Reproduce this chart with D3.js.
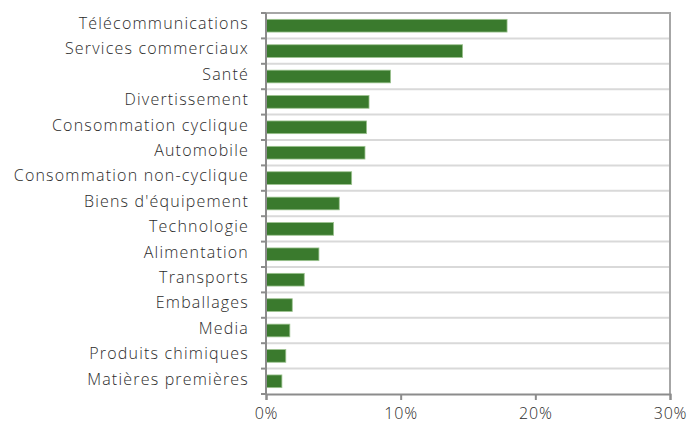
<!doctype html>
<html lang="fr">
<head>
<meta charset="UTF-8">
<title>Secteurs</title>
<script src="https://d3js.org/d3.v7.min.js"></script>
<style>
  body { margin: 0; background: #fff; }
  text { font-variant-ligatures: none; }
</style>
</head>
<body>
<div id="chart"></div>
<script>
// categories, top to bottom
const sectors = ["Télécommunications", "Services commerciaux", "Santé", "Divertissement",
  "Consommation cyclique", "Automobile", "Consommation non-cyclique", "Biens d'équipement",
  "Technologie", "Alimentation", "Transports", "Emballages", "Media",
  "Produits chimiques", "Matières premières"];
// weights in %
const weights = [17.9, 14.6, 9.25, 7.65, 7.47, 7.35, 6.36, 5.44, 5.02, 3.93, 2.84, 1.95, 1.77, 1.47, 1.18];
const xTicks = [0, 10, 20, 30];

const width = 691, height = 423;
const margin = {top: 13, right: 21, bottom: 29, left: 266};
const font = "'Open Sans', sans-serif";

const svg = d3.select("#chart").append("svg")
  .attr("width", width)
  .attr("height", height);

const x = d3.scaleLinear().domain([0, 30]).range([margin.left, width - margin.right]);
const y = d3.scaleBand().domain(sectors).range([margin.top, height - margin.bottom]).paddingInner(0.5).paddingOuter(0.25);

// boundaries between categories
const step = y.step();
const bounds = d3.range(sectors.length + 1).map(i => margin.top + i * step);

// horizontal gridlines
svg.append("g").selectAll("line")
  .data(bounds.slice(1, -1))
  .enter().append("line")
    .attr("x1", x(0)).attr("x2", x(30))
    .attr("y1", d => d).attr("y2", d => d)
    .attr("stroke", "#d9d9d9")
    .attr("stroke-width", 2);

// top and right border
svg.append("path")
  .attr("d", `M${x(0)},${margin.top}H${x(30)}V${height - margin.bottom}`)
  .attr("fill", "none")
  .attr("stroke", "#a6a6a6")
  .attr("stroke-width", 2);

// bars
svg.append("g").selectAll("rect")
  .data(weights)
  .enter().append("rect")
    .attr("x", x(0))
    .attr("y", (d, i) => y(sectors[i]))
    .attr("width", d => x(d) - x(0))
    .attr("height", y.bandwidth())
    .attr("fill", "#3a7a2d")
    .attr("stroke", "#9cc38f")
    .attr("stroke-width", 0.8);

// left axis: ticks on boundaries
const yAxis = svg.append("g");
yAxis.append("line")
  .attr("x1", x(0)).attr("x2", x(0))
  .attr("y1", margin.top).attr("y2", height - margin.bottom + 1)
  .attr("stroke", "#8c8c8c").attr("stroke-width", 2);
yAxis.selectAll(".tk")
  .data(bounds)
  .enter().append("line")
    .attr("x1", x(0) - 5).attr("x2", x(0))
    .attr("y1", d => d).attr("y2", d => d)
    .attr("stroke", "#8c8c8c").attr("stroke-width", 2);
yAxis.selectAll("text")
  .data(sectors)
  .enter().append("text")
    .attr("x", 249)
    .attr("y", d => y(d) + y.bandwidth() / 2)
    .attr("dy", "0.2em")
    .attr("text-anchor", "end")
    .attr("font-family", font)
    .attr("font-size", "16px")
    .attr("font-weight", 300)
    .attr("letter-spacing", "1.2px")
    .attr("fill", "#2b2b2b")
    .text(d => d);

// bottom axis
const xAxis = svg.append("g")
  .attr("transform", `translate(0,${height - margin.bottom})`)
  .call(d3.axisBottom(x).tickValues(xTicks).tickFormat(d => d + "%").tickSize(6).tickPadding(8));
xAxis.select(".domain").attr("stroke", "#8c8c8c").attr("stroke-width", 2);
xAxis.selectAll(".tick line").attr("stroke", "#8c8c8c").attr("stroke-width", 2);
xAxis.selectAll("text")
  .attr("font-family", font)
  .attr("font-size", "16px")
  .attr("font-weight", 300)
  .attr("letter-spacing", "0.8px")
  .attr("fill", "#2b2b2b");
</script>
</body>
</html>
